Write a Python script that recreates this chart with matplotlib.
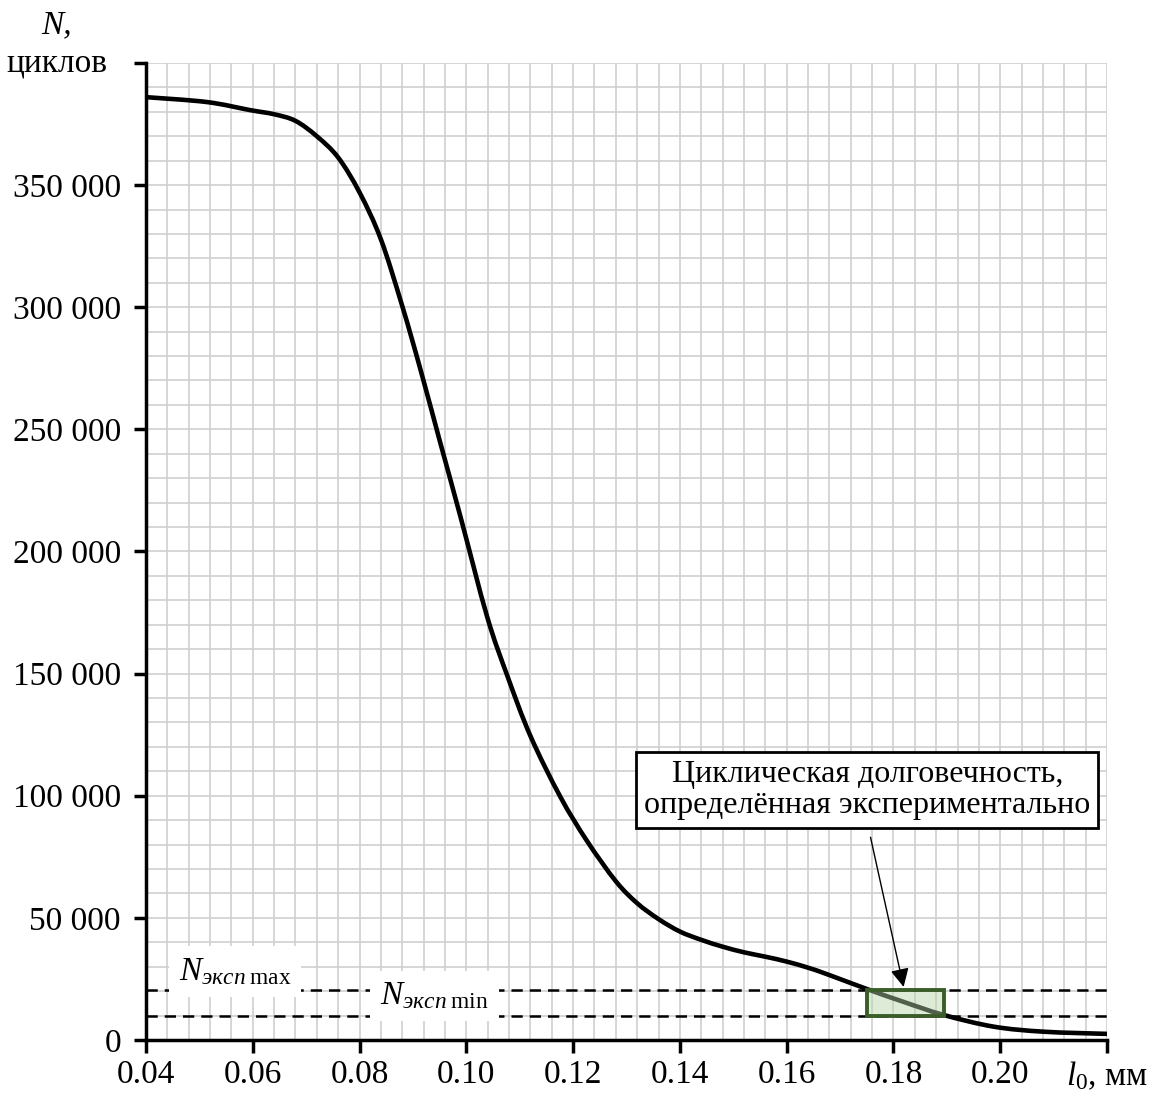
import matplotlib
matplotlib.use('Agg')
import matplotlib.pyplot as plt
import numpy as np
from matplotlib.patches import Rectangle, PathPatch
from matplotlib.path import Path
from matplotlib.ticker import MultipleLocator, FixedLocator

plt.rcParams['font.family'] = ['Liberation Serif', 'DejaVu Serif']
plt.rcParams['mathtext.fontset'] = 'custom'
plt.rcParams['mathtext.rm'] = 'Liberation Serif'
plt.rcParams['mathtext.it'] = 'Liberation Serif:italic'

# данные
l0 = [0.040, 0.0514, 0.0595, 0.064, 0.068, 0.072, 0.076, 0.080, 0.084, 0.088,
      0.0914, 0.0951, 0.0989, 0.1039, 0.1077, 0.1120, 0.1176, 0.1226, 0.128,
      0.132, 0.136, 0.140, 0.144, 0.148, 0.152, 0.156, 0.160, 0.164, 0.1676,
      0.1751, 0.1819, 0.1894, 0.1988, 0.2081, 0.2200]
N = [386000, 384000, 380700, 379000, 376300, 370000, 361300, 347000, 327800, 300500,
     274600, 244700, 214300, 173300, 149000, 124500, 99600, 81500, 65000,
     56000, 49500, 44400, 41000, 38200, 35900, 34100, 32100, 29600, 26900,
     20800, 15600, 10250, 5450, 3400, 2500]

N_exp_max = 20500
N_exp_min = 10000
l_exp = [0.175, 0.1895]

x_ticks = [0.04, 0.06, 0.08, 0.10, 0.12, 0.14, 0.16, 0.18, 0.20, 0.22]
x_labels = ['0.04', '0.06', '0.08', '0.10', '0.12', '0.14', '0.16', '0.18', '0.20',
            r'$\mathit{l}_0$, мм']
y_ticks = [0, 50000, 100000, 150000, 200000, 250000, 300000, 350000, 400000]
y_labels = ['0', '50 000', '100 000', '150 000', '200 000', '250 000',
            '300 000', '350 000', '']

note = 'Циклическая долговечность,\nопределённая экспериментально'


def smooth_path(xs, ys):
    # сглаженная линия (как в Excel): сплайн Катмулла-Рома в виде кривых Безье
    p = np.column_stack([xs, ys]).astype(float)
    verts = [p[0]]
    codes = [Path.MOVETO]
    n = len(p)
    for i in range(n - 1):
        p0 = p[max(i - 1, 0)]
        p1 = p[i]
        p2 = p[i + 1]
        p3 = p[min(i + 2, n - 1)]
        verts += [p1 + (p2 - p0) / 6, p2 - (p3 - p1) / 6, p2]
        codes += [Path.CURVE4] * 3
    return Path(verts, codes)


fig = plt.figure(figsize=(11.62, 10.93), dpi=100)
ax = fig.add_axes([0.1256, 0.0485, 0.8271, 0.8939])

ax.set_xlim(0.04, 0.22)
ax.set_ylim(0, 400000)

# сетка
ax.xaxis.set_major_locator(FixedLocator(x_ticks))
ax.yaxis.set_major_locator(FixedLocator(y_ticks))
ax.xaxis.set_minor_locator(MultipleLocator(0.004))
ax.yaxis.set_minor_locator(MultipleLocator(10000))
ax.grid(True, which='both', color='#cfcfcf', lw=1.2, zorder=0)
ax.set_axisbelow(True)

ax.set_xticklabels(x_labels)
ax.set_yticklabels(y_labels)
ax.tick_params(which='major', direction='out', length=9, width=2.5, labelsize=24, pad=9)
ax.tick_params(axis='x', pad=5)
ax.tick_params(which='minor', length=0)

for s in ['top', 'right']:
    ax.spines[s].set_visible(False)
for s in ['left', 'bottom']:
    ax.spines[s].set_linewidth(2.5)
    ax.spines[s].set_zorder(6)

# штриховые линии
ax.axhline(N_exp_max, color='black', lw=1.8, ls=(0, (4.5, 2.8)), zorder=2)
ax.axhline(N_exp_min, color='black', lw=1.8, ls=(0, (4.5, 2.8)), zorder=2)

# кривая
ax.add_patch(PathPatch(smooth_path(l0, N), facecolor='none', edgecolor='black',
                       lw=3.3, zorder=3, capstyle='butt'))

# область эксперимента
ax.add_patch(Rectangle((l_exp[0], N_exp_min), l_exp[1] - l_exp[0], N_exp_max - N_exp_min,
                       facecolor='#b6d7a8', alpha=0.45, edgecolor='none', zorder=4))
ax.add_patch(Rectangle((l_exp[0], N_exp_min), l_exp[1] - l_exp[0], N_exp_max - N_exp_min,
                       facecolor='none', edgecolor='#3b5e29', lw=2.8, zorder=5))

# подписи N_эксп
ax.text(0.0567, 28000, r'$N_{\mathit{эксп}\;\mathrm{max}}$', fontsize=24,
        ha='center', va='center', zorder=4,
        bbox=dict(boxstyle='square,pad=0.3', facecolor='white', edgecolor='none'))
ax.text(0.094, 18000, r'$N_{\mathit{эксп}\;\mathrm{min}}$', fontsize=24,
        ha='center', va='center', zorder=4,
        bbox=dict(boxstyle='square,pad=0.3', facecolor='white', edgecolor='none'))

# выноска
ax.annotate('', xy=(0.1819, 21700), xytext=(0.1757, 83000),
            arrowprops=dict(arrowstyle='-|>', color='black', lw=1.0,
                            mutation_scale=28, shrinkA=0, shrinkB=0),
            zorder=6)
ax.text(0.1751, 102500, note, fontsize=23, ha='center', va='center',
        linespacing=1.1, zorder=6,
        bbox=dict(boxstyle='square,pad=0.25', facecolor='white', edgecolor='black', lw=2))

# подпись оси Y
fig.text(57 / 1162, 1 - 25 / 1093, 'N,', fontsize=24, style='italic', ha='center', va='center')
fig.text(57 / 1162, 1 - 63 / 1093, 'циклов', fontsize=24, ha='center', va='center')

fig.savefig('out.png', dpi=100)
